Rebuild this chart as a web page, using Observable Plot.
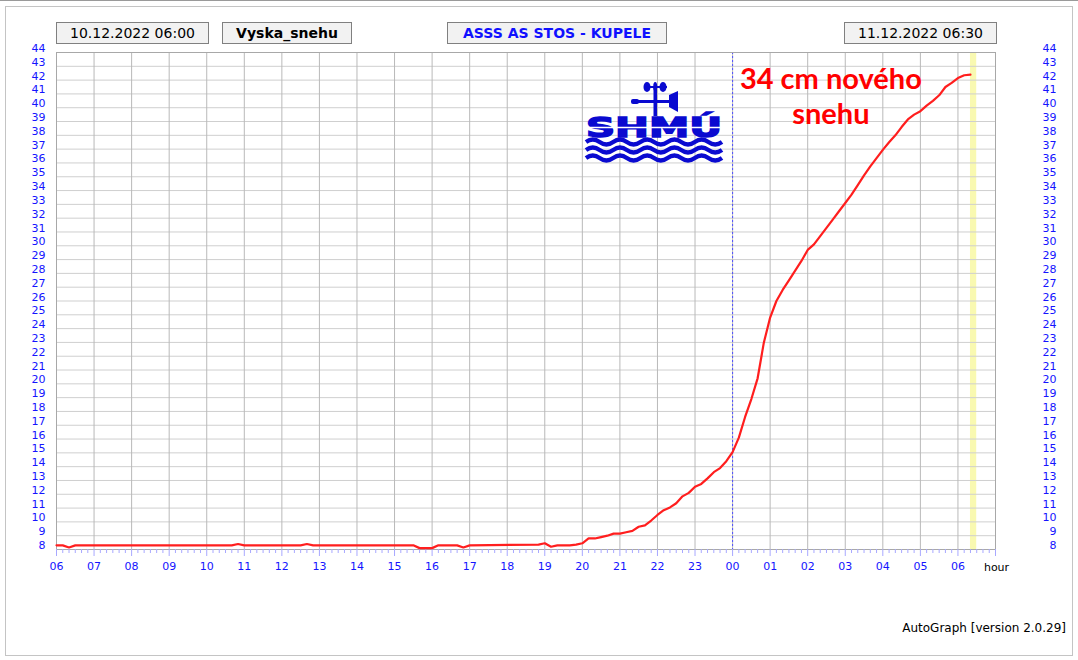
<!DOCTYPE html>
<html>
<head>
<meta charset="utf-8">
<script src="https://cdn.jsdelivr.net/npm/d3@7"></script>
<script src="https://cdn.jsdelivr.net/npm/@observablehq/plot@0.6"></script>
<style>
  body { margin: 0; background: #fff; font-family: "DejaVu Sans", sans-serif; }
  #wrap { position: relative; width: 1078px; height: 660px; overflow: hidden; background: #fff; }
  #wrap svg { position: absolute; left: 0; top: 0; }
  .topline { position: absolute; left: 0; top: 0; width: 1078px; height: 1px; background: #9a9a9a; }
  .outer { position: absolute; left: 5px; top: 6px; width: 1068px; height: 650px; box-sizing: border-box; border: 1px solid #c4c4c4; }
  .box { position: absolute; top: 22px; height: 22px; box-sizing: border-box; background: #f2f2f2; border: 1px solid #808080;
         text-align: center; font-size: 14px; line-height: 20px; color: #000; white-space: nowrap; }
  .bold { font-weight: bold; }
  .blue { color: #1010ff; }
  .caption { position: absolute; right: 12px; top: 621px; font-size: 12px; color: #000; }
</style>
</head>
<body>
<div id="wrap">
  <div class="topline"></div>
  <div class="outer"></div>
</div>
<script>
// ---- header / caption texts ----
const startLabel = "10.12.2022 06:00";
const seriesLabel = "Vyska_snehu";
const stationLabel = "ASSS AS STOS - KUPELE";
const endLabel = "11.12.2022 06:30";
const captionText = "AutoGraph [version 2.0.29]";
const axisUnitLabel = "hour";

// ---- annotation ----
const noteLines = ["34 cm nového", "snehu"];
const noteTimes = ["2022-12-11T02:37", "2022-12-11T02:37"];
const noteValues = [42.05, 39.5];

// ---- axis domain / ticks ----
const xStart = "2022-12-10T06:00";
const xEnd = "2022-12-11T07:00";
const yTicks = [8,9,10,11,12,13,14,15,16,17,18,19,20,21,22,23,24,25,26,27,28,29,30,31,32,33,34,35,36,37,38,39,40,41,42,43,44];
const midnight = "2022-12-11T00:00";
const currentBand = ["2022-12-11T06:20", "2022-12-11T06:30"];

// ---- series: snow height (cm) ----
const times = [
  "2022-12-10T06:00","2022-12-10T06:10","2022-12-10T06:20","2022-12-10T06:30",
  "2022-12-10T10:40","2022-12-10T10:50","2022-12-10T11:00",
  "2022-12-10T12:30","2022-12-10T12:40","2022-12-10T12:50",
  "2022-12-10T15:30","2022-12-10T15:40","2022-12-10T16:00","2022-12-10T16:10",
  "2022-12-10T16:40","2022-12-10T16:50","2022-12-10T17:00",
  "2022-12-10T18:50","2022-12-10T19:00","2022-12-10T19:10","2022-12-10T19:20",
  "2022-12-10T19:40","2022-12-10T19:50","2022-12-10T20:00","2022-12-10T20:10",
  "2022-12-10T20:20","2022-12-10T20:30","2022-12-10T20:40","2022-12-10T20:50",
  "2022-12-10T21:00","2022-12-10T21:10","2022-12-10T21:20","2022-12-10T21:30",
  "2022-12-10T21:40","2022-12-10T21:50","2022-12-10T22:00","2022-12-10T22:10",
  "2022-12-10T22:20","2022-12-10T22:30","2022-12-10T22:40","2022-12-10T22:50",
  "2022-12-10T23:00","2022-12-10T23:10","2022-12-10T23:20","2022-12-10T23:30",
  "2022-12-10T23:40","2022-12-10T23:50",
  "2022-12-11T00:00","2022-12-11T00:10","2022-12-11T00:20","2022-12-11T00:30",
  "2022-12-11T00:40","2022-12-11T00:50","2022-12-11T01:00","2022-12-11T01:10",
  "2022-12-11T01:20","2022-12-11T01:30","2022-12-11T01:40","2022-12-11T01:50",
  "2022-12-11T02:00","2022-12-11T02:10","2022-12-11T02:20","2022-12-11T02:30",
  "2022-12-11T02:40","2022-12-11T02:50","2022-12-11T03:00","2022-12-11T03:10",
  "2022-12-11T03:20","2022-12-11T03:30","2022-12-11T03:40","2022-12-11T03:50",
  "2022-12-11T04:00","2022-12-11T04:10","2022-12-11T04:20","2022-12-11T04:30",
  "2022-12-11T04:40","2022-12-11T04:50","2022-12-11T05:00","2022-12-11T05:10",
  "2022-12-11T05:20","2022-12-11T05:30","2022-12-11T05:40","2022-12-11T05:50",
  "2022-12-11T06:00","2022-12-11T06:10","2022-12-11T06:20"
];
const snowCm = [
  8.3, 8.3, 8.15, 8.3,
  8.3, 8.4, 8.3,
  8.3, 8.4, 8.3,
  8.3, 8.1, 8.1, 8.3,
  8.3, 8.15, 8.3,
  8.35, 8.45, 8.2, 8.3,
  8.3, 8.35, 8.45, 8.8,
  8.8, 8.9, 9.0, 9.15,
  9.15, 9.25, 9.35, 9.65,
  9.75, 10.1, 10.5, 10.85,
  11.05, 11.35, 11.85, 12.1,
  12.55, 12.75, 13.15, 13.6,
  13.9, 14.4,
  15.05, 16.1, 17.6, 18.9,
  20.4, 23.0, 24.8, 26.0,
  26.8, 27.5, 28.2, 28.9,
  29.7, 30.1, 30.7, 31.3,
  31.9, 32.5, 33.1, 33.7,
  34.4, 35.1, 35.75, 36.35,
  36.95, 37.5, 38.0, 38.6,
  39.15, 39.5, 39.75, 40.15,
  40.5, 40.9, 41.5, 41.8,
  42.15, 42.35, 42.4
];

const toDate = s => new Date(s + ":00Z");
const data = times.map((t, i) => ({t: toDate(t), v: snowCm[i]}));
const notes = noteLines.map((s, i) => ({s, t: toDate(noteTimes[i]), v: noteValues[i]}));

const x0 = toDate(xStart), x1 = toDate(xEnd);
const hourTicks = d3.utcHour.range(x0, new Date(+x1 + 1));
const labelTicks = d3.utcHour.range(x0, toDate("2022-12-11T06:01"));
const minorTicks = d3.utcMinute.every(10).range(x0, new Date(+x1 + 1)).filter(d => d.getUTCMinutes() !== 0);

const BLUE = "#1414ff";

const svg = Plot.plot({
  width: 1078,
  height: 660,
  marginLeft: 56,
  marginRight: 83,
  marginTop: 52,
  marginBottom: 111,
  style: {fontFamily: "DejaVu Sans, sans-serif", fontSize: "11px", background: "transparent", overflow: "visible"},
  x: {type: "utc", domain: [x0, x1]},
  y: {domain: [8, 44]},
  marks: [
    Plot.rect([{a: toDate(currentBand[0]), b: toDate(currentBand[1])}], {x1: "a", x2: "b", fill: "#f6f690", fillOpacity: 0.7}),
    Plot.gridY(yTicks, {stroke: "#cfcfcf", strokeOpacity: 1}),
    Plot.gridX(hourTicks, {stroke: "#b9b9b9", strokeOpacity: 1}),
    Plot.ruleX([toDate(midnight)], {stroke: "#5050ff", strokeDasharray: "2,2", strokeWidth: 1}),
    Plot.frame({stroke: "#a8a8a8"}),
    // minor & major ticks below frame
    Plot.axisX(minorTicks, {tickSize: 4, stroke: "#a8a8ff", fill: "none", label: null}),
    Plot.axisX(hourTicks, {tickSize: 7, stroke: "#a8a8ff", fill: "none", label: null}),
    Plot.axisX(labelTicks, {tickSize: 0, tickPadding: 13, tickFormat: d3.utcFormat("%H"), fill: BLUE, stroke: "none", label: null, fontSize: 11}),
    Plot.text([axisUnitLabel], {frameAnchor: "bottom-right", textAnchor: "middle", lineAnchor: "middle", dx: 1, dy: 18, text: d => d, fill: "#000", fontSize: 11}),
    Plot.axisY(yTicks, {anchor: "left", tickSize: 0, tickPadding: 11, dy: -4, fill: BLUE, label: null, fontSize: 11}),
    Plot.axisY(yTicks, {anchor: "right", tickSize: 0, tickPadding: 61, textAnchor: "end", dy: -4, fill: BLUE, label: null, fontSize: 11}),
    Plot.line(data, {x: "t", y: "v", stroke: "#ff1e1e", strokeWidth: 2.2}),
    Plot.text(notes, {x: "t", y: "v", text: "s", fill: "#ff0000", fontSize: 29, fontWeight: "bold", fontFamily: "Lato, sans-serif"})
  ]
});

const wrap = document.getElementById("wrap");
wrap.insertBefore(svg, wrap.firstChild.nextSibling);

// ---- SHMU logo (decoration) ----
const logoBlue = "#0a0ad0";
const g = d3.select(svg).append("g").attr("class", "logo").attr("text-anchor", "start");
g.append("rect").attr("x", 653.5).attr("y", 86).attr("width", 3.5).attr("height", 30).attr("fill", logoBlue);
g.append("rect").attr("x", 645).attr("y", 86).attr("width", 22).attr("height", 2).attr("fill", logoBlue);
g.append("ellipse").attr("cx", 647).attr("cy", 87).attr("rx", 3.5).attr("ry", 5).attr("fill", logoBlue);
g.append("ellipse").attr("cx", 663).attr("cy", 87).attr("rx", 3.5).attr("ry", 5).attr("fill", logoBlue);
g.append("ellipse").attr("cx", 655.2).attr("cy", 86.5).attr("rx", 2).attr("ry", 4.5).attr("fill", logoBlue);
g.append("rect").attr("x", 632).attr("y", 100).attr("width", 40).attr("height", 3).attr("fill", logoBlue);
g.append("rect").attr("x", 631).attr("y", 99).attr("width", 8).attr("height", 5).attr("rx", 2).attr("fill", logoBlue);
g.append("path").attr("d", "M669,95 L678,91 L678,112 L669,107 Z").attr("fill", logoBlue);
g.append("text").attr("x", 586).attr("y", 137).attr("text-anchor", "start")
  .attr("textLength", 136).attr("lengthAdjust", "spacingAndGlyphs")
  .style("font", "900 27px 'DejaVu Sans'").attr("fill", logoBlue).attr("stroke", logoBlue).attr("stroke-width", 1.5)
  .text("SHMÚ");
g.append("path").attr("d", "M589,127.5 L720,127.5").attr("stroke", "#fff").attr("stroke-width", 1.3);
[142, 150, 158].forEach(yy => {
  let d = `M586,${yy}`;
  for (let k = 0; k < 5; k++) {
    const xa = 586 + k * 27.2;
    d += ` Q${xa + 6.8},${yy - 5} ${xa + 13.6},${yy} Q${xa + 20.4},${yy + 5} ${xa + 27.2},${yy}`;
  }
  g.append("path").attr("d", d).attr("fill", "none").attr("stroke", logoBlue).attr("stroke-width", 4.2);
});

// ---- header boxes & caption (HTML) ----
function addBox(text, left, width, cls) {
  const b = document.createElement("div");
  b.className = "box " + (cls || "");
  b.style.left = left + "px";
  b.style.width = width + "px";
  b.textContent = text;
  wrap.appendChild(b);
}
addBox(startLabel, 56, 153, "");
addBox(seriesLabel, 222, 130, "bold");
addBox(stationLabel, 447, 220, "bold blue");
addBox(endLabel, 844, 153, "");
const cap = document.createElement("div");
cap.className = "caption";
cap.textContent = captionText;
wrap.appendChild(cap);
</script>
</body>
</html>
